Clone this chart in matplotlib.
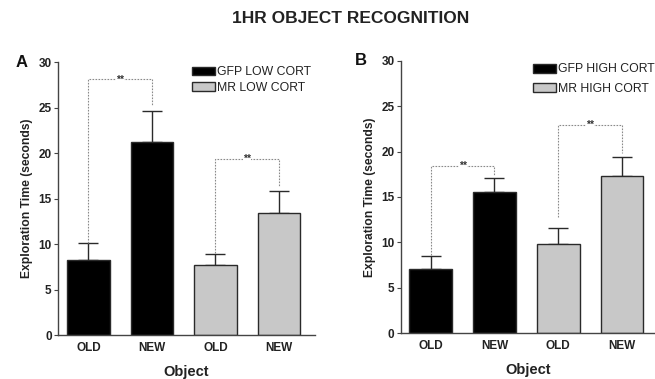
import matplotlib
matplotlib.use("Agg")
import matplotlib.pyplot as plt
from matplotlib.patches import Patch

plt.rcParams['font.family'] = ['Liberation Sans', 'DejaVu Sans']

categories = ["OLD", "NEW", "OLD", "NEW"]

# Panel A
a_means = [8.2, 21.2, 7.7, 13.4]
a_errs = [1.9, 3.4, 1.2, 2.4]
a_labels = ["GFP LOW CORT", "MR LOW CORT"]
# brackets: (i, j, y, left_bottom, right_bottom)
a_brackets = [(0, 1, 28.1, 10.1, 25.2), (2, 3, 19.4, 9.0, 16.4)]

# Panel B
b_means = [7.05, 15.5, 9.8, 17.3]
b_errs = [1.5, 1.6, 1.75, 2.1]
b_labels = ["GFP HIGH CORT", "MR HIGH CORT"]
b_brackets = [(0, 1, 18.4, 8.6, 17.4), (2, 3, 22.9, 12.8, 19.8)]

colors = ["#000000", "#000000", "#c8c8c8", "#c8c8c8"]
edge = "#2a2a2a"

fig = plt.figure(figsize=(6.55, 3.79), dpi=100)
fig.text(0.536, 0.952, "1HR OBJECT RECOGNITION", ha="center", va="center",
         fontsize=12.5, fontweight="bold", color="#222222")

def panel(rect, means, errs, labels, brackets, letter, letter_x, xlim, leg_anchor, leg_sp):
    ax = fig.add_axes(rect)
    x = list(range(len(means)))
    ax.bar(x, means, width=0.67, color=colors, edgecolor=edge, linewidth=1.0, zorder=2)
    ax.errorbar(x, means, yerr=[[0]*len(errs), errs], fmt="none", ecolor=edge,
                elinewidth=1.0, capsize=7.5, capthick=1.0, zorder=1)
    for i, j, y, lb, rb in brackets:
        ax.plot([i, i, j, j], [lb, y, y, rb], color="#8a8a8a", lw=0.8,
                ls=(0, (1.5, 1.2)), zorder=3)
        ax.text((i + j) / 2, y, "**", ha="center", va="center", fontsize=7.5,
                fontweight="bold", color="#333333",
                bbox=dict(facecolor="white", edgecolor="none", pad=0.1))
    ax.set_ylim(0, 30)
    ax.set_xlim(*xlim)
    ax.set_yticks([0, 5, 10, 15, 20, 25, 30])
    ax.set_xticks(x)
    ax.set_xticklabels(categories)
    for sp in ["top", "right"]:
        ax.spines[sp].set_visible(False)
    for sp in ["left", "bottom"]:
        ax.spines[sp].set_color("#444444")
        ax.spines[sp].set_linewidth(1.0)
    ax.tick_params(axis="y", length=3, width=0.8, color="#444444", labelsize=8.5, pad=1.5)
    ax.tick_params(axis="x", length=0, labelsize=8.5, pad=5)
    for lbl in ax.get_xticklabels() + ax.get_yticklabels():
        lbl.set_fontweight("bold")
        lbl.set_color("#222222")
    ax.set_ylabel("Exploration Time (seconds)", fontsize=8.7, fontweight="bold",
                  color="#222222", labelpad=4)
    ax.set_xlabel("Object", fontsize=10.5, fontweight="bold", color="#222222", labelpad=8)
    handles = [Patch(facecolor="#000000", edgecolor=edge, label=labels[0]),
               Patch(facecolor="#c8c8c8", edgecolor=edge, label=labels[1])]
    ax.legend(handles=handles, loc="upper left", bbox_to_anchor=leg_anchor,
              frameon=False, fontsize=8.8, handlelength=1.9, handleheight=0.75,
              handletextpad=0.15, labelspacing=leg_sp, borderaxespad=0,
              borderpad=0, labelcolor="#222222")
    ax.text(letter_x, 1.0, letter, transform=ax.transAxes, fontsize=12,
            fontweight="bold", color="#111111", ha="left", va="center")
    return ax

panel([0.0885, 0.116, 0.3925, 0.72], a_means, a_errs, a_labels, a_brackets,
      "A", -0.165, (-0.48, 3.57), (0.52, 0.985), 0.3)
panel([0.612, 0.1205, 0.388, 0.7195], b_means, b_errs, b_labels, b_brackets,
      "B", -0.18, (-0.47, 3.52), (0.52, 0.99), 0.6)

fig.savefig("out.png", dpi=100)
